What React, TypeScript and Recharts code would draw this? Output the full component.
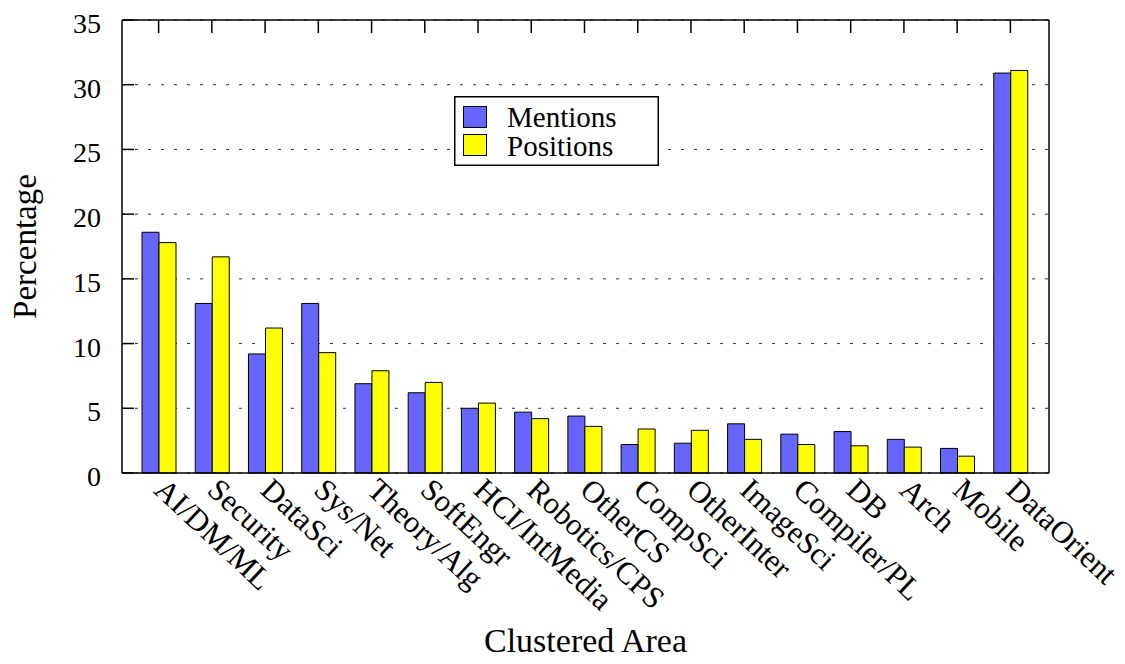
import React from "react";
import { BarChart, Bar, XAxis, YAxis, CartesianGrid, Legend, Label } from "recharts";

const categories = ["AI/DM/ML", "Security", "DataSci", "Sys/Net", "Theory/Alg", "SoftEngr", "HCI/IntMedia", "Robotics/CPS", "OtherCS", "CompSci", "OtherInter", "ImageSci", "Compiler/PL", "DB", "Arch", "Mobile", "DataOrient"];
const mentions = [18.6, 13.1, 9.2, 13.1, 6.9, 6.2, 5.0, 4.7, 4.4, 2.2, 2.3, 3.8, 3.0, 3.2, 2.6, 1.9, 30.9];
const positions = [17.8, 16.7, 11.2, 9.3, 7.9, 7.0, 5.4, 4.2, 3.6, 3.4, 3.3, 2.6, 2.2, 2.1, 2.0, 1.3, 31.1];
const yTicks = [0, 5, 10, 15, 20, 25, 30, 35];

const data = categories.map((c, i) => ({ area: c, Mentions: mentions[i], Positions: positions[i] }));

const FONT = "'Liberation Serif', 'Times New Roman', serif";
const BLUE = "#6666ff";
const YELLOW = "#ffff00";

const LeftTick = (props: any) => {
  const { x, y, payload } = props;
  return (
    <g>
      <line x1={x} y1={y} x2={x + 12} y2={y} stroke="#000" strokeWidth={1.5} />
      <text x={x - 21} y={y + 13} textAnchor="end" fontFamily={FONT} fontSize={28} fill="#000">
        {payload.value}
      </text>
    </g>
  );
};

const RightTick = (props: any) => {
  const { x, y } = props;
  return <line x1={x} y1={y} x2={x - 12} y2={y} stroke="#000" strokeWidth={1.5} />;
};

const TopTick = (props: any) => {
  const { x, y } = props;
  return <line x1={x} y1={y} x2={x} y2={y + 13} stroke="#000" strokeWidth={1.5} />;
};

const BottomTick = (props: any) => {
  const { x, y, payload } = props;
  const ax = x - 6;
  const ay = y + 19;
  return (
    <text x={ax} y={ay} transform={`rotate(43, ${ax}, ${ay})`} textAnchor="start" fontFamily={FONT} fontSize={31} fill="#000">
      {payload.value}
    </text>
  );
};

const LegendBox = () => (
  <svg width={205} height={70} style={{ display: "block", background: "#fff" }}>
    <rect x={0.75} y={0.75} width={203.5} height={68.5} fill="#fff" stroke="#000" strokeWidth={1.5} />
    <rect x={9.5} y={10.5} width={23} height={21} fill={BLUE} stroke="#000" strokeWidth={1} />
    <rect x={9.5} y={38.5} width={23} height={21} fill={YELLOW} stroke="#000" strokeWidth={1} />
    <text x={53} y={31} fontFamily={FONT} fontSize={29} fill="#000">Mentions</text>
    <text x={53} y={60} fontFamily={FONT} fontSize={29} fill="#000">Positions</text>
  </svg>
);

export default function App() {
  return (
    <div style={{ width: 1117, height: 656, position: "relative" }}>
      <BarChart
        width={1117}
        height={656}
        data={data}
        margin={{ top: 11, right: 75, bottom: 190, left: 0 }}
        barGap={0}
        barSize={17}
      >
        <CartesianGrid vertical={false} stroke="#333" strokeDasharray="3 10" strokeWidth={1} />
        <XAxis
          dataKey="area"
          height={1}
          interval={0}
          padding={{ left: 10, right: 12 }}
          axisLine={{ stroke: "#000", strokeWidth: 1.5 }}
          tickLine={false}
          tickSize={0}
          tickMargin={0}
          tick={<BottomTick />}
        >
          <Label
            content={(p: any) => {
              const vb = p.viewBox;
              return (
                <text x={vb.x + vb.width / 2} y={644} textAnchor="middle" fontFamily={FONT} fontSize={34} fill="#000">
                  Clustered Area
                </text>
              );
            }}
          />
        </XAxis>
        <XAxis
          xAxisId="top"
          orientation="top"
          dataKey="area"
          height={1}
          interval={0}
          padding={{ left: 10, right: 12 }}
          axisLine={{ stroke: "#000", strokeWidth: 1.5 }}
          tickLine={false}
          tickSize={0}
          tickMargin={0}
          tick={<TopTick />}
        />
        <YAxis
          width={114}
          domain={[0, 35]}
          ticks={yTicks}
          interval={0}
          axisLine={{ stroke: "#000", strokeWidth: 1.5 }}
          tickLine={false}
          tickSize={0}
          tickMargin={0}
          tick={<LeftTick />}
        >
          <Label
            content={(p: any) => {
              const vb = p.viewBox;
              const cx = 17;
              const cy = vb.y + vb.height / 2;
              return (
                <text x={cx} y={cy} transform={`rotate(-90, ${cx}, ${cy})`} textAnchor="middle" dominantBaseline="central" fontFamily={FONT} fontSize={33} fill="#000">
                  Percentage
                </text>
              );
            }}
          />
        </YAxis>
        <YAxis
          yAxisId="r"
          orientation="right"
          width={1}
          domain={[0, 35]}
          ticks={yTicks}
          interval={0}
          axisLine={{ stroke: "#000", strokeWidth: 1.5 }}
          tickLine={false}
          tickSize={0}
          tickMargin={0}
          tick={<RightTick />}
        />
        <Legend
          layout="horizontal"
          verticalAlign="middle"
          align="center"
          wrapperStyle={{ position: "absolute", left: 446, top: 88, width: 205, height: 70 }}
          content={() => <LegendBox />}
        />
        <Bar dataKey="Mentions" fill={BLUE} stroke="#000" strokeWidth={1} isAnimationActive={false} />
        <Bar dataKey="Positions" fill={YELLOW} stroke="#000" strokeWidth={1} isAnimationActive={false} />
      </BarChart>
    </div>
  );
}
